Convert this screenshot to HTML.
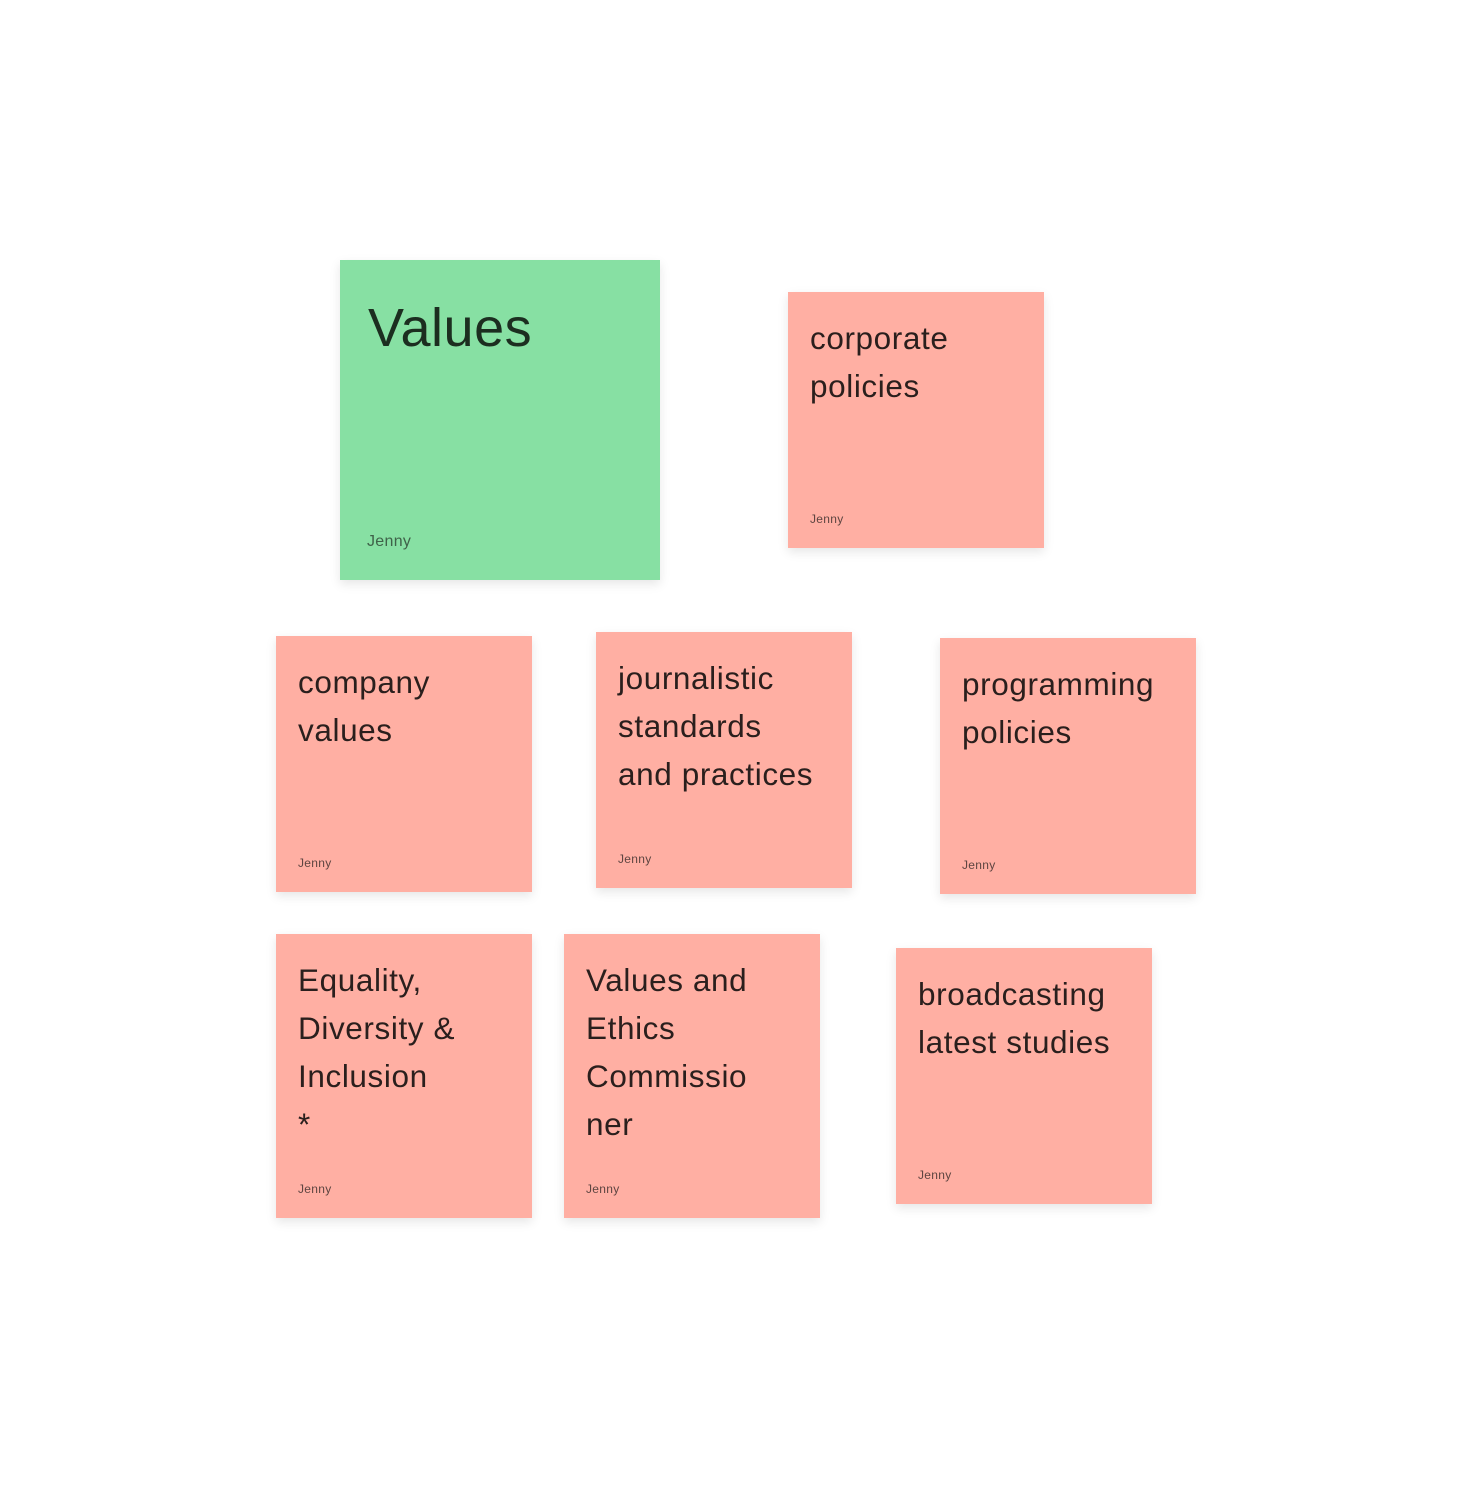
<!DOCTYPE html>
<html><head><style>
body{margin:0;width:1472px;height:1511px;background:#fff;position:relative;overflow:hidden;font-family:"Liberation Sans",sans-serif}
.n{position:absolute;background:#FFAFA3;box-shadow:0 4px 10px rgba(0,0,0,0.1);box-sizing:border-box;padding:22px 22px 0 22px;color:#2a1f1d}
.t{font-size:31.5px;line-height:48px;letter-spacing:0.6px;white-space:nowrap}
.a{position:absolute;left:22px;bottom:22px;font-size:12px;color:#5e4541;letter-spacing:0.3px}
.g{background:#87E0A3;color:#1c2e20}
</style></head><body>
<div class="n g" style="left:340px;top:260px;width:320px;height:320px;padding:28px 28px">
<div style="font-size:54px;line-height:80px;letter-spacing:0.5px">Values</div>
<div class="a" style="left:27px;bottom:29px;font-size:16px;color:#3f6249">Jenny</div></div>
<div class="n" style="left:788px;top:292px;width:256px;height:256px"><div class="t">corporate<br>policies</div><div class="a">Jenny</div></div>
<div class="n" style="left:276px;top:636px;width:256px;height:256px"><div class="t">company<br>values</div><div class="a">Jenny</div></div>
<div class="n" style="left:596px;top:632px;width:256px;height:256px"><div class="t">journalistic<br>standards<br>and practices</div><div class="a">Jenny</div></div>
<div class="n" style="left:940px;top:638px;width:256px;height:256px"><div class="t">programming<br>policies</div><div class="a">Jenny</div></div>
<div class="n" style="left:276px;top:934px;width:256px;height:284px"><div class="t">Equality,<br>Diversity &amp;<br>Inclusion<br>*</div><div class="a">Jenny</div></div>
<div class="n" style="left:564px;top:934px;width:256px;height:284px"><div class="t">Values and<br>Ethics<br>Commissio<br>ner</div><div class="a">Jenny</div></div>
<div class="n" style="left:896px;top:948px;width:256px;height:256px"><div class="t">broadcasting<br>latest studies</div><div class="a">Jenny</div></div>
</body></html>
